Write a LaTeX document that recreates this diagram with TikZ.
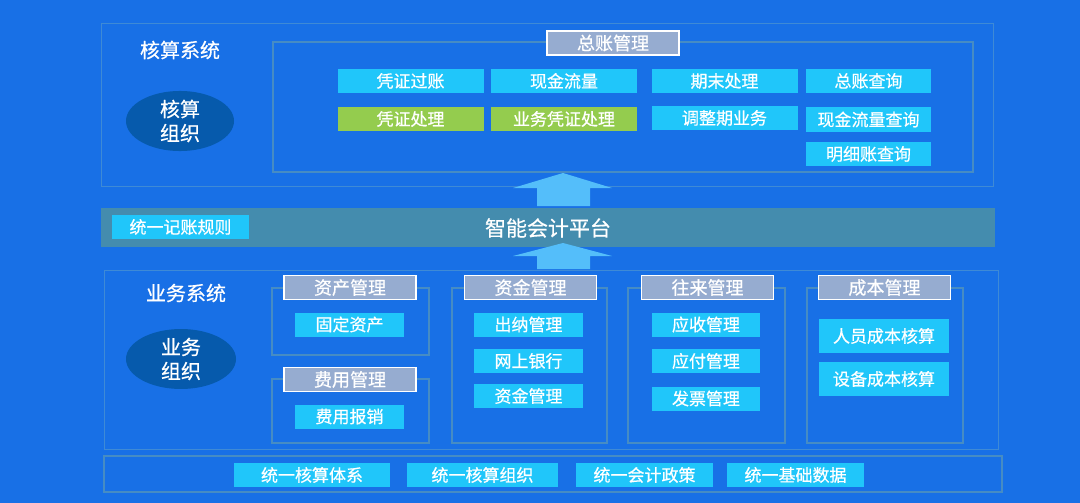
\documentclass[tikz,border=0pt]{standalone}
\usepackage{fontspec}
\setmainfont{Noto Sans CJK SC}[FakeBold=0.6]
\usepackage{tikz}
\usetikzlibrary{shapes.geometric}
\definecolor{bgblue}{RGB}{24,112,230}
\definecolor{itemcyan}{RGB}{32,198,250}
\definecolor{itemgreen}{RGB}{148,204,78}
\definecolor{headgray}{RGB}{150,172,208}
\definecolor{bandteal}{RGB}{68,140,174}
\definecolor{ovaldark}{RGB}{6,90,172}
\definecolor{framelight}{RGB}{62,138,214}
\definecolor{framegray}{RGB}{70,140,196}
\definecolor{arrowblue}{RGB}{84,190,250}

\begin{document}
\begin{tikzpicture}[x=1pt,y=-1pt]
        \tikzset{items/.style={fill=itemcyan, text=white, inner sep=0pt, minimum height=24pt, font=\fontsize{17}{20}\selectfont},
                 greens/.style={items, fill=itemgreen},
                 heads/.style={draw=white, line width=1.6pt, fill=headgray, text=white, inner sep=0pt, minimum width=132pt, minimum height=24pt, font=\fontsize{18}{21}\selectfont},
                 labels/.style={text=white, font=\fontsize{20}{24}\selectfont},
                 ovals/.style={ellipse, fill=ovaldark, text=white, align=center, inner sep=0pt, minimum width=108pt, minimum height=53pt, font=\fontsize{20}{24}\selectfont},
                 frames/.style={draw=framelight, line width=0.8pt},
                 groups/.style={draw=framegray, line width=1.6pt},
                 bigarrow/.style={fill=arrowblue}}
        \fill[bgblue] (0,0) rectangle (1080,503);
        \useasboundingbox (0,0) rectangle (1080,503);
        % top system
        \draw [frames] (101,23) rectangle (993,186);
        \draw [groups] (273,42) rectangle (973,172);
        \node [labels] (hs)  at (180,50) {核算系统};
        \node [ovals]  (hz)  at (180,121) {核算\\组织};
        \node [heads]  (zz)  at (613,43) {总账管理};
        \node [items, minimum width=146pt] (t1) at (410.5,81)  {凭证过账};
        \node [items, minimum width=146pt] (t2) at (564,81)    {现金流量};
        \node [items, minimum width=146pt] (t3) at (724.5,81)  {期末处理};
        \node [items, minimum width=125pt] (t4) at (868.5,81)  {总账查询};
        \node [greens, minimum width=146pt] (t5) at (410.5,119) {凭证处理};
        \node [greens, minimum width=146pt] (t6) at (564,119)   {业务凭证处理};
        \node [items, minimum width=146pt] (t7) at (724.5,118) {调整期业务};
        \node [items, minimum width=125pt] (t8) at (868.5,119.5) {现金流量查询};
        \node [items, minimum width=125pt] (t9) at (868.5,154) {明细账查询};
        % platform band
        \fill [bandteal] (101,208) rectangle (995,247);
        \node [items, minimum width=137pt] (gz) at (180.5,227) {统一记账规则};
        \node [labels, font=\fontsize{21}{24}\selectfont] (pt) at (548,228) {智能会计平台};
        \fill [bigarrow] (563,173) -- (612,188) -- (590,188) -- (590,206) -- (537,206) -- (537,188) -- (513,188) -- cycle;
        % business system
        \draw [frames] (104,270) rectangle (998,449);
        \fill [bigarrow] (563,243) -- (612,256) -- (590,256) -- (590,269) -- (537,269) -- (537,256) -- (513,256) -- cycle;
        \node [labels] (ys)  at (186,293) {业务系统};
        \node [ovals, minimum width=110pt, minimum height=54pt] (yz) at (181,359) {业务\\组织};
        \draw [groups] (272,288) rectangle (429,355);
        \draw [groups] (272,379) rectangle (429,443);
        \draw [groups] (452,288) rectangle (607,443);
        \draw [groups] (628,288) rectangle (785,443);
        \draw [groups] (807,288) rectangle (963,443);
        \node [heads] (g1) at (350,287.5) {资产管理};
        \node [heads] (g2) at (350,379.5) {费用管理};
        \node [heads] (g3) at (530.5,287.5) {资金管理};
        \node [heads] (g4) at (707.5,287.5) {往来管理};
        \node [heads] (g5) at (884.5,287.5) {成本管理};
        \node [items, minimum width=109pt] (a1) at (349.5,324.5) {固定资产};
        \node [items, minimum width=109pt] (a2) at (349.5,416.5) {费用报销};
        \node [items, minimum width=109pt] (b1) at (528.5,324.5) {出纳管理};
        \node [items, minimum width=109pt] (b2) at (528.5,361)   {网上银行};
        \node [items, minimum width=109pt] (b3) at (528.5,396)   {资金管理};
        \node [items, minimum width=108pt] (c1) at (706,324.5)   {应收管理};
        \node [items, minimum width=108pt] (c2) at (706,361)     {应付管理};
        \node [items, minimum width=108pt] (c3) at (706,398.5)   {发票管理};
        \node [items, minimum width=130pt, minimum height=34pt] (d1) at (884,336) {人员成本核算};
        \node [items, minimum width=130pt, minimum height=34pt] (d2) at (884,379) {设备成本核算};
        % unified base
        \draw [groups, line width=2.4pt] (104,456) rectangle (1002,492);
        \node [items, minimum width=156pt] (u1) at (312,475)   {统一核算体系};
        \node [items, minimum width=151pt] (u2) at (482.5,475) {统一核算组织};
        \node [items, minimum width=137pt] (u3) at (644.5,475) {统一会计政策};
        \node [items, minimum width=137pt] (u4) at (795.5,475) {统一基础数据};
    \end{tikzpicture}
\end{document}
